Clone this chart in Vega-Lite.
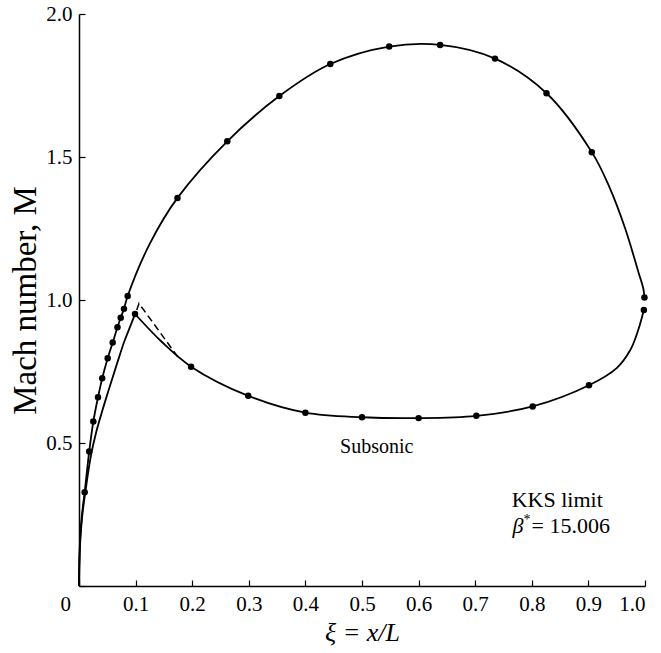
{
  "$schema": "https://vega.github.io/schema/vega-lite/v6.json",
  "autosize": {"type": "none"},
  "padding": {"left": 79, "top": 14, "right": 16, "bottom": 67},
  "width": 566,
  "height": 572,
  "background": "white",
  "datasets": {
    "curves": [
      {"s": "outer", "o": 0, "xi": 0, "M": 0, "dot": 0},
      {"s": "outer", "o": 1, "xi": 0.0005, "M": 0.08, "dot": 0},
      {"s": "outer", "o": 2, "xi": 0.002, "M": 0.165, "dot": 0},
      {"s": "outer", "o": 3, "xi": 0.005, "M": 0.245, "dot": 0},
      {"s": "outer", "o": 4, "xi": 0.010, "M": 0.328, "dot": 1},
      {"s": "outer", "o": 5, "xi": 0.018, "M": 0.47, "dot": 1},
      {"s": "outer", "o": 6, "xi": 0.0253, "M": 0.575, "dot": 1},
      {"s": "outer", "o": 7, "xi": 0.0336, "M": 0.66, "dot": 1},
      {"s": "outer", "o": 8, "xi": 0.041, "M": 0.726, "dot": 1},
      {"s": "outer", "o": 9, "xi": 0.0507, "M": 0.796, "dot": 1},
      {"s": "outer", "o": 10, "xi": 0.0595, "M": 0.851, "dot": 1},
      {"s": "outer", "o": 11, "xi": 0.068, "M": 0.905, "dot": 1},
      {"s": "outer", "o": 12, "xi": 0.0737, "M": 0.938, "dot": 1},
      {"s": "outer", "o": 13, "xi": 0.0795, "M": 0.969, "dot": 1},
      {"s": "outer", "o": 14, "xi": 0.086, "M": 1.014, "dot": 1},
      {"s": "outer", "o": 15, "xi": 0.1254, "M": 1.198, "dot": 0},
      {"s": "outer", "o": 16, "xi": 0.174, "M": 1.357, "dot": 1},
      {"s": "outer", "o": 17, "xi": 0.262, "M": 1.555, "dot": 1},
      {"s": "outer", "o": 18, "xi": 0.354, "M": 1.713, "dot": 1},
      {"s": "outer", "o": 19, "xi": 0.444, "M": 1.825, "dot": 1},
      {"s": "outer", "o": 20, "xi": 0.548, "M": 1.886, "dot": 1},
      {"s": "outer", "o": 21, "xi": 0.638, "M": 1.892, "dot": 1},
      {"s": "outer", "o": 22, "xi": 0.735, "M": 1.844, "dot": 1},
      {"s": "outer", "o": 23, "xi": 0.826, "M": 1.723, "dot": 1},
      {"s": "outer", "o": 24, "xi": 0.906, "M": 1.517, "dot": 1},
      {"s": "outer", "o": 25, "xi": 0.936, "M": 1.40, "dot": 0},
      {"s": "outer", "o": 26, "xi": 0.965, "M": 1.25, "dot": 0},
      {"s": "outer", "o": 27, "xi": 0.988, "M": 1.10, "dot": 0},
      {"s": "outer", "o": 28, "xi": 0.997, "M": 1.04, "dot": 0},
      {"s": "outer", "o": 29, "xi": 0.999, "M": 1.009, "dot": 1},
      {"s": "lower", "o": 0, "xi": 0.998, "M": 0.965, "dot": 1},
      {"s": "lower", "o": 1, "xi": 0.988, "M": 0.895, "dot": 0},
      {"s": "lower", "o": 2, "xi": 0.974, "M": 0.825, "dot": 0},
      {"s": "lower", "o": 3, "xi": 0.95, "M": 0.762, "dot": 0},
      {"s": "lower", "o": 4, "xi": 0.901, "M": 0.702, "dot": 1},
      {"s": "lower", "o": 5, "xi": 0.8016, "M": 0.628, "dot": 1},
      {"s": "lower", "o": 6, "xi": 0.702, "M": 0.595, "dot": 1},
      {"s": "lower", "o": 7, "xi": 0.600, "M": 0.587, "dot": 1},
      {"s": "lower", "o": 8, "xi": 0.500, "M": 0.590, "dot": 1},
      {"s": "lower", "o": 9, "xi": 0.400, "M": 0.606, "dot": 1},
      {"s": "lower", "o": 10, "xi": 0.299, "M": 0.665, "dot": 1},
      {"s": "lower", "o": 11, "xi": 0.198, "M": 0.767, "dot": 1},
      {"s": "lower", "o": 12, "xi": 0.146, "M": 0.854, "dot": 0},
      {"s": "lower", "o": 13, "xi": 0.099, "M": 0.951, "dot": 1},
      {"s": "left", "o": 0, "xi": 0.099, "M": 0.951, "dot": 0},
      {"s": "left", "o": 1, "xi": 0.09, "M": 0.905, "dot": 0},
      {"s": "left", "o": 2, "xi": 0.08, "M": 0.855, "dot": 0},
      {"s": "left", "o": 3, "xi": 0.07, "M": 0.795, "dot": 0},
      {"s": "left", "o": 4, "xi": 0.058, "M": 0.72, "dot": 0},
      {"s": "left", "o": 5, "xi": 0.05, "M": 0.67, "dot": 0},
      {"s": "left", "o": 6, "xi": 0.04, "M": 0.605, "dot": 0},
      {"s": "left", "o": 7, "xi": 0.03, "M": 0.535, "dot": 0},
      {"s": "left", "o": 8, "xi": 0.021, "M": 0.455, "dot": 0},
      {"s": "left", "o": 9, "xi": 0.012, "M": 0.34, "dot": 0},
      {"s": "left", "o": 10, "xi": 0.006, "M": 0.25, "dot": 0},
      {"s": "left", "o": 11, "xi": 0.0025, "M": 0.165, "dot": 0},
      {"s": "left", "o": 12, "xi": 0.0007, "M": 0.08, "dot": 0},
      {"s": "left", "o": 13, "xi": 0, "M": 0, "dot": 0}
    ],
    "dash": [
      {"o": 0, "xi": 0.102, "M": 0.965},
      {"o": 1, "xi": 0.106, "M": 0.988},
      {"o": 2, "xi": 0.175, "M": 0.80}
    ],
    "notes": [
      {"t": "Subsonic", "xi": 0.526, "M": 0.464}
    ],
    "kks": [
      {"t": "KKS limit", "xi": 0.7645, "M": 0.276}
    ],
    "beta": [
      {"t": "β", "xi": 0.766, "M": 0.185}
    ]
  },
  "layer": [
    {
      "data": {"name": "curves"},
      "mark": {"type": "line", "interpolate": "catmull-rom", "color": "black", "strokeWidth": 1.8},
      "encoding": {
        "x": {"field": "xi", "type": "quantitative", "scale": {"domain": [0, 1], "nice": false},
          "axis": {
            "values": [0, 0.1, 0.2, 0.3, 0.4, 0.5, 0.6, 0.7, 0.8, 0.9, 1.0],
            "labelExpr": "datum.value == 0 ? '0' : format(datum.value, '.1f')",
            "labelOffset": {"condition": {"test": "datum.value == 0", "value": -19}, "value": 0},
            "title": "ξ = x/L",
            "titleFontStyle": "italic",
            "titleFontSize": 26,
            "titlePadding": 5
          }},
        "y": {"field": "M", "type": "quantitative", "scale": {"domain": [0, 2], "nice": false},
          "axis": {
            "values": [0, 0.5, 1.0, 1.5, 2.0],
            "labelExpr": "datum.value == 0 ? '' : format(datum.value, '.1f')",
            "title": "Mach number, M",
            "titleFontSize": 33,
            "titlePadding": 3
          }},
        "detail": {"field": "s"},
        "order": {"field": "o", "type": "quantitative"}
      }
    },
    {
      "data": {"name": "dash"},
      "mark": {"type": "line", "color": "black", "strokeWidth": 1.5, "strokeDash": [7, 4]},
      "encoding": {
        "x": {"field": "xi", "type": "quantitative"},
        "y": {"field": "M", "type": "quantitative"},
        "order": {"field": "o", "type": "quantitative"}
      }
    },
    {
      "data": {"name": "curves"},
      "transform": [{"filter": "datum.dot == 1"}],
      "mark": {"type": "point", "filled": true, "color": "black", "size": 42, "opacity": 1},
      "encoding": {
        "x": {"field": "xi", "type": "quantitative"},
        "y": {"field": "M", "type": "quantitative"}
      }
    },
    {
      "data": {"name": "notes"},
      "mark": {"type": "text", "align": "center", "baseline": "alphabetic", "fontSize": 20, "font": "Liberation Serif", "color": "black"},
      "encoding": {
        "x": {"field": "xi", "type": "quantitative"},
        "y": {"field": "M", "type": "quantitative"},
        "text": {"field": "t"}
      }
    },
    {
      "data": {"name": "kks"},
      "mark": {"type": "text", "align": "left", "baseline": "alphabetic", "fontSize": 22, "font": "Liberation Serif", "color": "black"},
      "encoding": {
        "x": {"field": "xi", "type": "quantitative"},
        "y": {"field": "M", "type": "quantitative"},
        "text": {"field": "t"}
      }
    },
    {
      "data": {"name": "beta"},
      "layer": [
        {
          "mark": {"type": "text", "align": "left", "baseline": "alphabetic", "fontSize": 22, "fontStyle": "italic", "font": "Liberation Serif", "color": "black"},
          "encoding": {
            "x": {"field": "xi", "type": "quantitative"},
            "y": {"field": "M", "type": "quantitative"},
            "text": {"field": "t"}
          }
        },
        {
          "mark": {"type": "text", "align": "left", "baseline": "alphabetic", "fontSize": 14, "font": "Liberation Serif", "color": "black", "dx": 11, "dy": -9},
          "encoding": {
            "x": {"field": "xi", "type": "quantitative"},
            "y": {"field": "M", "type": "quantitative"},
            "text": {"value": "*"}
          }
        },
        {
          "mark": {"type": "text", "align": "left", "baseline": "alphabetic", "fontSize": 22, "font": "Liberation Serif", "color": "black", "dx": 19},
          "encoding": {
            "x": {"field": "xi", "type": "quantitative"},
            "y": {"field": "M", "type": "quantitative"},
            "text": {"value": "= 15.006"}
          }
        }
      ]
    }
  ],
  "config": {
    "view": {"stroke": null},
    "font": "Liberation Serif",
    "axis": {
      "grid": false,
      "domainColor": "black",
      "domainWidth": 1.5,
      "tickColor": "black",
      "tickWidth": 1.2,
      "tickSize": -6,
      "labelPadding": 13,
      "labelFont": "Liberation Serif",
      "labelFontSize": 21,
      "labelColor": "black",
      "titleFont": "Liberation Serif",
      "titleFontWeight": "normal",
      "titleColor": "black"
    }
  }
}
